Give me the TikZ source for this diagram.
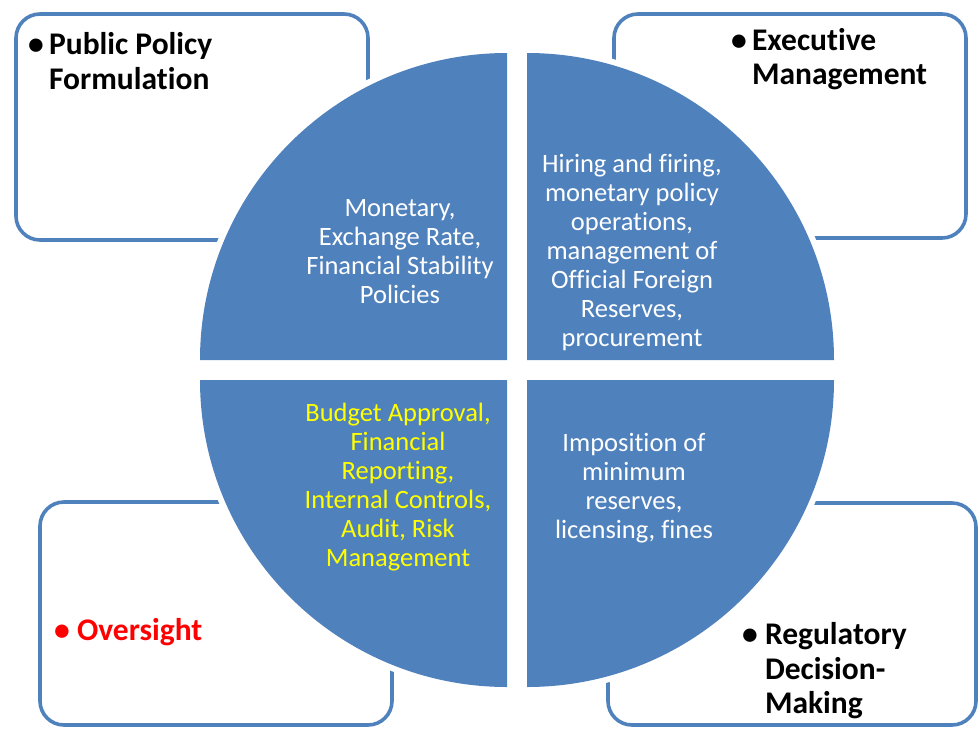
\documentclass[tikz,border=0pt]{standalone}
\usepackage{fontspec}
\setmainfont{Carlito}[Ligatures=CommonOff]
\usepackage{xcolor}
\usepackage{tikz}
\usetikzlibrary{positioning}
\definecolor{quadblue}{RGB}{79,129,189}
\definecolor{notered}{RGB}{255,0,0}
\definecolor{noteyellow}{RGB}{255,255,0}

\begin{document}
\begin{tikzpicture}[x=1pt,y=-1pt,
    panel/.style={draw=quadblue,line width=3.6pt,rounded corners=24pt,inner sep=0pt},
    heading/.style={font=\fontsize{31.5}{34.5}\selectfont\bfseries,align=left,inner sep=0pt},
    inside/.style={font=\fontsize{26.5}{29}\selectfont,align=center,inner sep=0pt}]
        \useasboundingbox (0,0) rectangle (978,729);
        % the four corner boxes
        \node[panel,minimum width=352pt,minimum height=226pt] (pubbox) at (192,127) {};
        \node[panel,minimum width=352pt,minimum height=224pt] (exebox) at (790,126) {};
        \node[panel,minimum width=352pt,minimum height=223pt] (ovsbox) at (216,613.5) {};
        \node[panel,minimum width=368pt,minimum height=222pt] (regbox) at (792,614) {};
        % the circle, cut in four quarters
        \foreach \dx/\dy/\a in {-10/-10/180, 10/-10/270, -10/10/90, 10/10/0}{
            \fill[white] (517+\dx,370+\dy) -- ++(\a:313) arc[start angle=\a,end angle=\a+90,radius=313] -- cycle;
            \fill[quadblue] (517+\dx,370+\dy) -- ++(\a:307) arc[start angle=\a,end angle=\a+90,radius=307] -- cycle;
        }
        \node[inside,text=white] (monq) at (400,252) {Monetary,\\Exchange Rate,\\Financial Stability\\Policies};
        \node[inside,text=white] (hirq) at (632,252) {Hiring and firing,\\monetary policy\\operations,\\management of\\Official Foreign\\Reserves,\\procurement};
        \node[inside,text=noteyellow] (budq) at (398,487) {Budget Approval,\\Financial\\Reporting,\\Internal Controls,\\Audit, Risk\\Management};
        \node[inside,text=white] (impq) at (634,488) {Imposition of\\minimum\\reserves,\\licensing, fines};
        % titles
        \node[heading,anchor=west] (pubt) at (28,61) {\textbullet\,Public Policy\\\phantom{\textbullet\,}Formulation};
        \node[heading,anchor=west] (exet) at (731,59) {\textbullet\,Executive\\\phantom{\textbullet\,}Management};
        \node[heading,anchor=west,text=notered] (ovst) at (54,632) {\textbullet\ Oversight};
        \node[heading,anchor=west] (regt) at (742,671) {\textbullet\ Regulatory\\\phantom{\textbullet\ }Decision-\\\phantom{\textbullet\ }Making};
\end{tikzpicture}
\end{document}
